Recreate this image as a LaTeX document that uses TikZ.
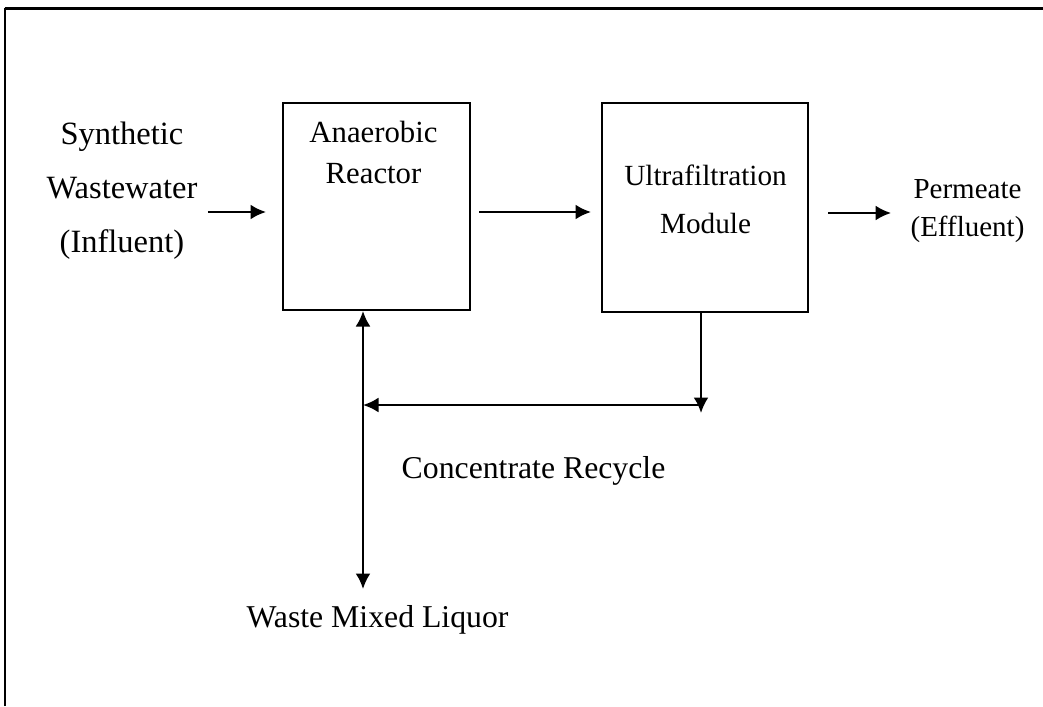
\documentclass[tikz,border=0pt]{standalone}
\usepackage{fontspec}
\setmainfont{Liberation Serif}
\usetikzlibrary{arrows.meta}

\begin{document}
\begin{tikzpicture}[x=0.4pt,y=-0.4pt,>={Latex[length=6.2pt,width=6pt]},
    unit/.style={draw,line width=0.8pt,minimum width=74.8pt,minimum height=82.8pt,inner sep=0pt},
    txt/.style args={#1/#2}{align=center,inner sep=0pt,font=\fontsize{#1}{#2}\selectfont},
    flow/.style={line width=0.95pt}]
        \useasboundingbox (0,0) rectangle (1043,706);
        \draw[line width=0.8pt](5,706)--(5,8.5);
        \draw[line width=1.2pt](4.6,8.5)--(1043,8.5);
        % units
        \node[unit] (reactor) at (376.5,206.5) {};
        \node[unit,minimum width=82.4pt,minimum height=83.6pt] (uf) at (705,207.5) {};
        \node[txt=12.3/16.4] (reactortxt) at (373.5,152.5) {Anaerobic\\Reactor};
        \node[txt=11.7/19.2] (uftxt) at (705.5,199) {Ultrafiltration\\Module};
        % streams
        \node[txt=13/21.6] (feed) at (122,191) {Synthetic\\Wastewater\\(Influent)};
        \node[txt=11.6/15] (perm) at (967.5,211) {Permeate\\(Effluent)};
        \node[txt=12.7/15,anchor=base] (recycle) at (533.5,478) {Concentrate Recycle};
        \node[txt=12.7/15,anchor=base] (waste) at (377.5,627) {Waste Mixed Liquor};
        \coordinate (rin) at ([yshift=-2.2pt]reactor.west);
        \coordinate (split) at ([xshift=-1.6pt]uf.south);
        \coordinate (back) at (363,405);
        \coordinate (drain) at (363,589);
        \draw[flow,->,shorten <=4pt,shorten >=6.4pt](feed.east|-rin)--(rin);
        \draw[flow,->,shorten <=3.2pt,shorten >=4pt]([yshift=-2.2pt]reactor.east)--([yshift=-2.2pt]reactor.east-|uf.west);
        \draw[flow,->,shorten <=7.6pt,shorten >=7.6pt]([yshift=-2.2pt]uf.east)--([yshift=-2.2pt]uf.east-|perm.west);
        \draw[flow,->](split)--++(0,100);
        \draw[flow,->](split|-back)--(back);
        \draw[flow,<->](drain)--(drain|-reactor.south);
    \end{tikzpicture}
\end{document}
